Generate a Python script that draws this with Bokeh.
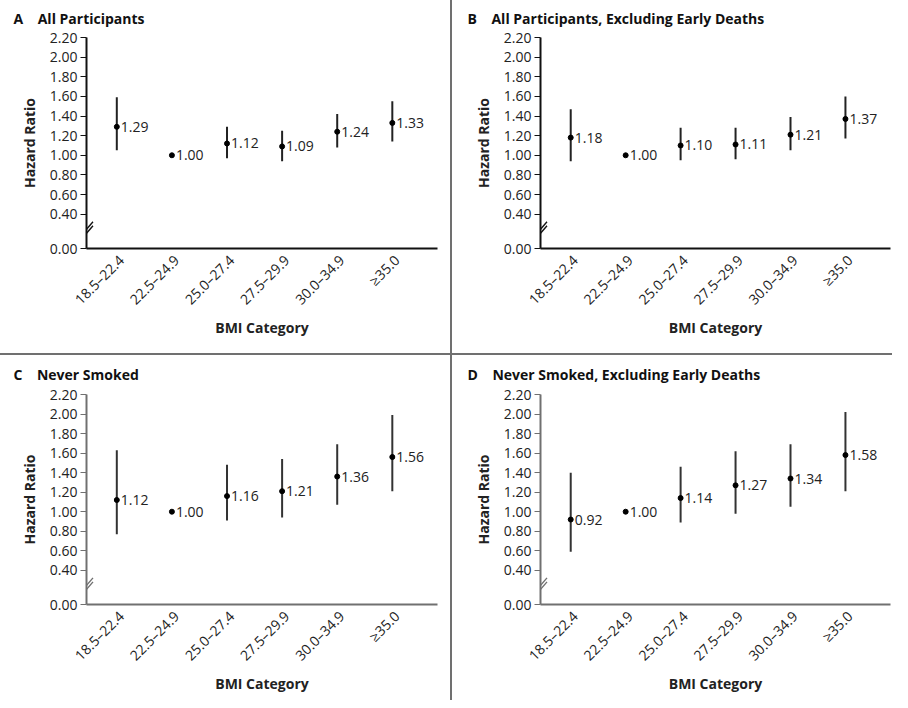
import math
from bokeh.plotting import figure
from bokeh.layouts import gridplot
from bokeh.models import (Range1d, FixedTicker, CustomJSTickFormatter, Arrow,
                          ColumnDataSource)
from bokeh.core.properties import value
from bokeh.embed import file_html
from bokeh.resources import INLINE

# ---------------- data ----------------
categories = ["18.5\u201322.4", "22.5\u201324.9", "25.0\u201327.4",
              "27.5\u201329.9", "30.0\u201334.9", "\u226535.0"]

hr_a = [1.29, 1.00, 1.12, 1.09, 1.24, 1.33]
lo_a = [1.05, 1.00, 0.97, 0.94, 1.08, 1.14]
hi_a = [1.59, 1.00, 1.29, 1.25, 1.42, 1.55]

hr_b = [1.18, 1.00, 1.10, 1.11, 1.21, 1.37]
lo_b = [0.94, 1.00, 0.95, 0.96, 1.05, 1.17]
hi_b = [1.47, 1.00, 1.28, 1.28, 1.39, 1.60]

hr_c = [1.12, 1.00, 1.16, 1.21, 1.36, 1.56]
lo_c = [0.77, 1.00, 0.91, 0.94, 1.07, 1.21]
hi_c = [1.63, 1.00, 1.48, 1.54, 1.69, 1.99]

hr_d = [0.92, 1.00, 1.14, 1.27, 1.34, 1.58]
lo_d = [0.59, 1.00, 0.89, 0.98, 1.05, 1.21]
hi_d = [1.40, 1.00, 1.46, 1.62, 1.69, 2.02]

y_ticks = [0.40, 0.60, 0.80, 1.00, 1.20, 1.40, 1.60, 1.80, 2.00, 2.20]
y_zero_label = "0.00"

panel_letters = ["A", "B", "C", "D"]
panel_titles = ["All Participants",
                "All Participants, Excluding Early Deaths",
                "Never Smoked",
                "Never Smoked, Excluding Early Deaths"]
x_title = "BMI Category"
y_title = "Hazard Ratio"

# ---------------- style ----------------
FONT = "Open Sans"
Y0, Y1 = 0.05, 2.2          # axis break: bottom of frame shows "0.00"
X0, X1 = -0.55, 5.82
LABEL_SHIFT = 0.08          # nudges rotated category labels right


def make_panel(letter, title, hr, lo, hi, width, height, left, right, top,
               bottom, axis_color, bar_color, title_standoff):
    p = figure(width=width, height=height, x_range=Range1d(X0, X1),
               y_range=Range1d(Y0, Y1), output_backend="svg",
               toolbar_location=None, min_border_left=left,
               min_border_right=right, min_border_top=top,
               min_border_bottom=bottom,
               background_fill_color="white", border_fill_color="white")
    p.outline_line_color = None
    p.grid.visible = False
    p.styles = {"background-color": "white"}

    xs = list(range(len(categories)))
    src = ColumnDataSource(dict(x=xs, hr=hr, lo=lo, hi=hi,
                                label=[f"{v:.2f}" for v in hr]))
    p.segment(x0="x", y0="lo", x1="x", y1="hi", source=src,
              line_color=bar_color, line_width=2)
    p.scatter(x="x", y="hr", source=src, size=5, color="black")
    p.text(x="x", y="hr", text="label", source=src, x_offset=4,
           text_baseline="middle", text_align="left",
           text_font=value(FONT), text_font_size="14px", text_color="#222222")

    # x axis
    xa = p.xaxis[0]
    xa.ticker = FixedTicker(ticks=[i + LABEL_SHIFT for i in xs])
    xa.formatter = CustomJSTickFormatter(
        args=dict(cats=categories),
        code="return cats[Math.round(tick - 0.08)];")
    xa.major_label_orientation = math.pi / 4
    xa.major_tick_out = 0
    xa.major_tick_in = 0
    xa.minor_tick_out = 0
    xa.minor_tick_in = 0
    xa.axis_line_color = axis_color
    xa.axis_line_width = 2
    xa.major_label_text_font = FONT
    xa.major_label_text_font_size = "14px"
    xa.major_label_text_color = "#222222"
    xa.major_label_standoff = 9
    xa.axis_label = x_title
    xa.axis_label_text_font = FONT
    xa.axis_label_text_font_style = "bold"
    xa.axis_label_text_font_size = "14px"
    xa.axis_label_text_color = "#222222"
    xa.axis_label_standoff = 0

    # y axis
    ya = p.yaxis[0]
    ya.ticker = FixedTicker(ticks=[Y0] + y_ticks)
    ya.formatter = CustomJSTickFormatter(
        args=dict(zero=y_zero_label),
        code="return tick < 0.3 ? zero : tick.toFixed(2);")
    ya.major_tick_out = 6
    ya.major_tick_in = 0
    ya.minor_tick_out = 0
    ya.minor_tick_in = 0
    ya.axis_line_color = axis_color
    ya.axis_line_width = 2
    ya.major_tick_line_color = axis_color
    ya.major_label_text_font = FONT
    ya.major_label_text_font_size = "14px"
    ya.major_label_text_color = "#222222"
    ya.major_label_standoff = 3
    ya.axis_label = y_title
    ya.axis_label_text_font = FONT
    ya.axis_label_text_font_style = "bold"
    ya.axis_label_text_font_size = "14px"
    ya.axis_label_text_color = "#222222"
    ya.axis_label_standoff = 8

    # panel title
    p.title.text = letter + "\u00a0\u00a0\u00a0\u00a0" + title
    p.title.align = "left"
    p.title.vertical_align = "top"
    p.title.offset = -73
    p.title.standoff = title_standoff
    p.title.text_font = FONT
    p.title.text_font_style = "bold"
    p.title.text_font_size = "14px"
    p.title.text_color = "#111111"

    # axis-break marks
    fw = width - left - right
    fh = height - top - bottom
    sx = (X1 - X0) / fw
    sy = (Y1 - Y0) / fh
    yb = (Y0 + y_ticks[0]) / 2
    for dy in (-2.0, 2.0):
        p.add_layout(Arrow(end=None, start=None,
                           x_start=X0 - 6.5 * sx, y_start=yb + (dy - 7.5) * sy,
                           x_end=X0 + 6.5 * sx, y_end=yb + (dy + 7.5) * sy,
                           line_color=axis_color, line_width=1.4))
    return p


pA = make_panel("A", panel_titles[0], hr_a, lo_a, hi_a, 450, 353, 86, 13, 37,
                105, "#111111", "#222222", 16)
pB = make_panel("B", panel_titles[1], hr_b, lo_b, hi_b, 440, 353, 88, 2, 37,
                105, "#111111", "#222222", 16)
pC = make_panel("C", panel_titles[2], hr_c, lo_c, hi_c, 450, 345, 86, 13, 39,
                96, "#707070", "#333333", 18)
pD = make_panel("D", panel_titles[3], hr_d, lo_d, hi_d, 440, 345, 88, 2, 39,
                96, "#707070", "#333333", 18)

g = gridplot([[pA, pB], [pC, pD]], toolbar_location=None)
g.spacing = 2
g.styles = {"background-color": "#707070"}

open("out.html", "w").write(file_html(g, INLINE))
